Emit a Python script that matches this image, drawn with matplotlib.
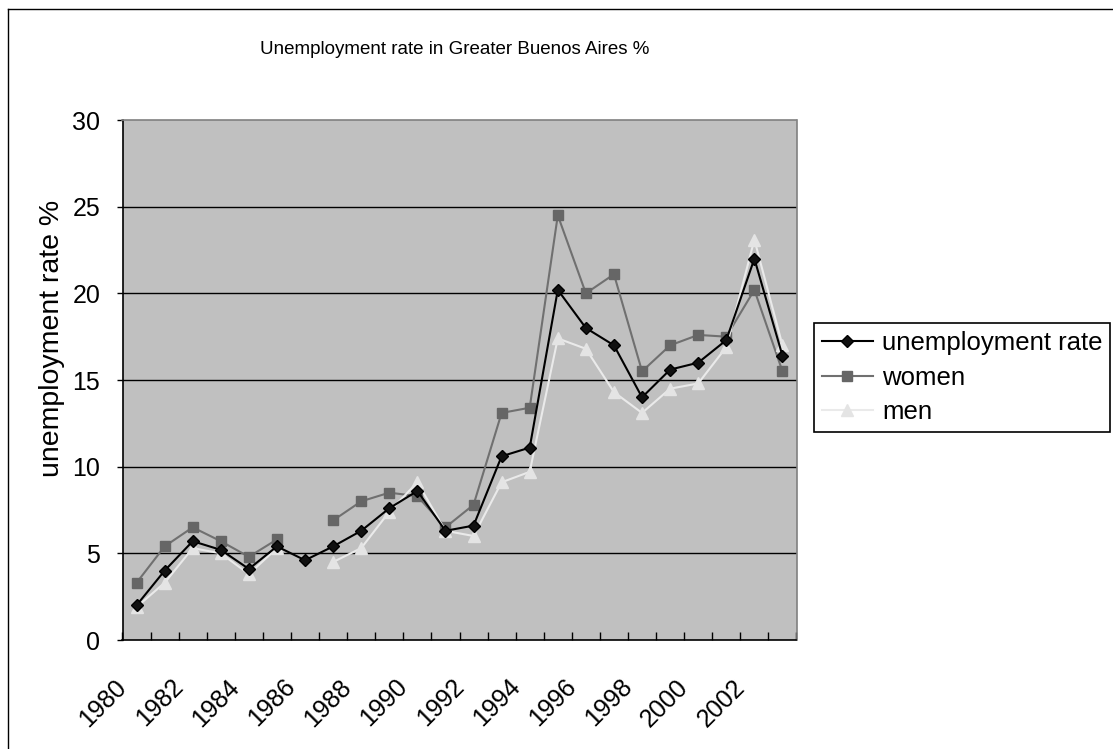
import numpy as np
import matplotlib
matplotlib.use("Agg")
import matplotlib.pyplot as plt
from matplotlib.lines import Line2D
from matplotlib.transforms import ScaledTranslation

plt.rcParams['font.family'] = ['Liberation Sans', 'DejaVu Sans']

# data (NaN = no value)
years = list(range(1980, 2004))
unemployment = [2.0, 4.0, 5.7, 5.2, 4.1, 5.4, 4.6, 5.4, 6.3, 7.6, 8.6, 6.3,
                6.6, 10.6, 11.1, 20.2, 18.0, 17.0, 14.0, 15.6, 16.0, 17.3, 22.0, 16.4]
women = [3.3, 5.4, 6.5, 5.7, 4.8, 5.8, np.nan, 6.9, 8.0, 8.5, 8.3, 6.5,
         7.8, 13.1, 13.4, 24.5, 20.0, 21.1, 15.5, 17.0, 17.6, 17.5, 20.2, 15.5]
men = [1.9, 3.3, 5.3, 5.0, 3.8, 5.3, np.nan, 4.5, 5.3, 7.4, 9.1, 6.3,
       6.0, 9.1, 9.7, 17.4, 16.8, 14.3, 13.1, 14.5, 14.8, 16.9, 23.1, 17.0]
series_names = ["unemployment rate", "women", "men"]
tick_years = years[::2]
yticks = [0, 5, 10, 15, 20, 25, 30]

W, H = 1113, 749
fig = plt.figure(figsize=(W / 100, H / 100), dpi=100)
ax = fig.add_axes([122.5 / W, 1 - 640 / H, 674 / W, 520 / H])
ax.set_facecolor("#C0C0C0")

styles = {
    "unemployment rate": dict(color="black", marker="D", ms=6, mfc="#111111", mec="black"),
    "women": dict(color="#707070", marker="s", ms=7.5, mfc="#666666", mec="#666666"),
    "men": dict(color="#EAEAEA", marker="^", ms=9, mfc="#E4E4E4", mec="#E4E4E4"),
}

x = np.arange(len(years))
ax.plot(x, women, lw=1.5, zorder=3, **styles["women"])
ax.plot(x, men, lw=1.5, zorder=3, **styles["men"])
ax.plot(x, unemployment, lw=1.5, zorder=4, **styles["unemployment rate"])

ax.set_xlim(-0.5, len(years) - 0.5)
ax.set_ylim(0, 30)
ax.set_yticks(yticks)
for v in yticks[1:-1]:
    ax.axhline(v, color="black", lw=1, zorder=1)

# category axis: labels on every other year, tick marks between categories
ax.set_xticks([years.index(y) for y in tick_years])
ax.set_xticklabels([str(y) for y in tick_years], rotation=45, ha="right",
                   rotation_mode="anchor", fontsize=18)
ax.set_xticks(np.arange(-0.5, len(years), 1.0), minor=True)
ax.tick_params(axis="x", which="major", length=0, pad=25)
ax.tick_params(axis="x", which="minor", direction="in", length=6, width=1, color="black")
ax.tick_params(axis="y", direction="out", length=4, width=1, pad=12, labelsize=18)
for lab in ax.get_xticklabels():
    lab.set_transform(lab.get_transform() + ScaledTranslation(-0.22, 0, fig.dpi_scale_trans))

ax.spines["left"].set_color("black")
ax.spines["bottom"].set_color("black")
ax.spines["top"].set_color("#808080")
ax.spines["right"].set_color("#808080")
for s in ax.spines.values():
    s.set_linewidth(1.2)

ax.set_ylabel("unemployment rate %", fontsize=20.5)
ax.yaxis.set_label_coords(-0.085, 0.579)

fig.text(455 / W, 1 - 49 / H, "Unemployment rate in Greater Buenos Aires %",
         ha="center", va="center", fontsize=13.5)

handles = [Line2D([], [], lw=1.5, **styles[n]) for n in series_names]
leg = fig.legend(handles, series_names, loc="upper left",
                 bbox_to_anchor=(814 / W, 1 - 323 / H), fontsize=18.5,
                 frameon=True, fancybox=False, framealpha=1, edgecolor="black",
                 handlelength=2.0, handletextpad=0.35, borderpad=0.3,
                 labelspacing=0.42, borderaxespad=0)
leg.get_frame().set_linewidth(1.2)

# outer chart border (left and top visible)
fig.add_artist(plt.Line2D([8 / W, 8 / W], [0, 1 - 9 / H], color="black", lw=1,
                          transform=fig.transFigure))
fig.add_artist(plt.Line2D([8 / W, 1], [1 - 9 / H, 1 - 9 / H], color="black", lw=1,
                          transform=fig.transFigure))

fig.savefig("out.png", dpi=100)
